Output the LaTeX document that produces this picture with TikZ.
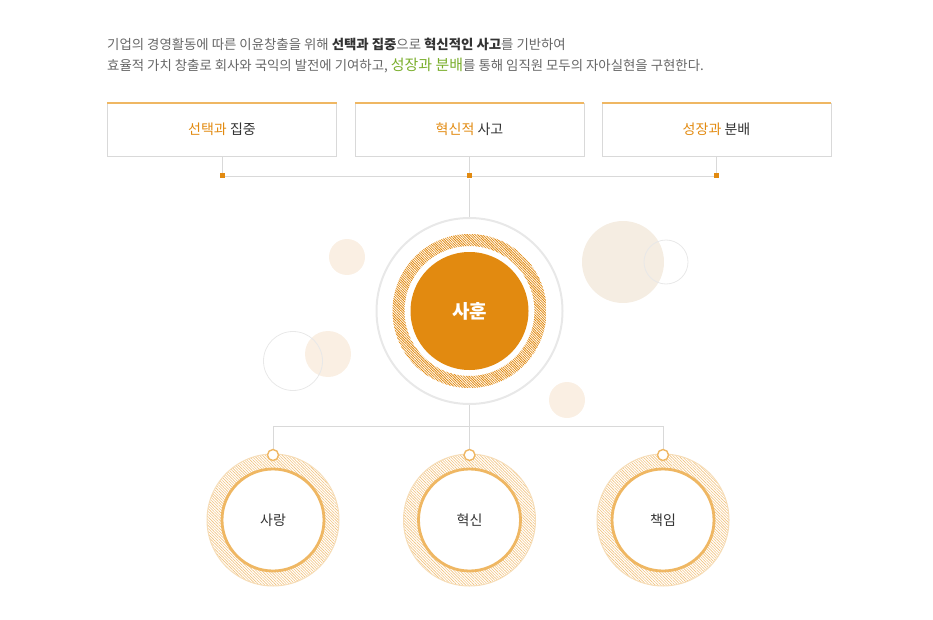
\documentclass[tikz,border=0pt]{standalone}
\usepackage{fontspec}
\setmainfont{Noto Sans CJK KR}
\usetikzlibrary{patterns.meta,backgrounds,positioning}
\definecolor{org}{HTML}{E28A10}
\definecolor{lorg}{HTML}{EFB763}
\definecolor{porg}{HTML}{F6DDB8}
\definecolor{horg}{HTML}{F1C27E}
\definecolor{lne}{HTML}{D9D9D9}
\definecolor{txt}{HTML}{666666}
\definecolor{dk}{HTML}{333333}
\definecolor{grn}{HTML}{7AAE2C}
\definecolor{bga}{HTML}{FAEFE3}
\definecolor{bgb}{HTML}{F5EDE2}
\definecolor{ol}{HTML}{E8E8E8}
\newcommand{\hl}[1]{\textcolor{org}{#1}}
\newcommand{\px}[1]{\fontsize{#1pt}{#1pt}\selectfont}
\tikzset{
  tbox/.style={draw=lne,minimum width=229pt,minimum height=53pt,inner sep=0pt,font=\px{14},text=dk},
  sq/.style={fill=org,minimum size=5pt,inner sep=0pt},
  ln/.style={draw=lne,line width=.8pt},
  val/.style={circle,draw=lorg,line width=2.8pt,minimum size=102pt,inner sep=0pt,fill=white,font=\px{14},text=dk},
  dot/.style={circle,draw=lorg,line width=1.4pt,fill=white,minimum size=11pt,inner sep=0pt},
  deco/.style={draw=ol,line width=.8pt},
}

\begin{document}
\begin{tikzpicture}[x=1pt,y=-1pt]
\useasboundingbox (0,0) rectangle (933,620);
\node[anchor=base west,inner sep=0pt,text=txt,font=\px{13.4}] (introa) at (107,50)
  {기업의 경영활동에 따른 이윤창출을 위해 \textcolor{dk}{\bfseries 선택과 집중}으로 \textcolor{dk}{\bfseries 혁신적인 사고}를 기반하여};
\node[anchor=base west,inner sep=0pt,text=txt,font=\px{13.4}] (introb) at (107,71)
  {효율적 가치 창출로 회사와 국익의 발전에 기여하고, \textcolor{grn}{\px{15}성장과 분배}를 통해 임직원 모두의 자아실현을 구현한다.};

\node[tbox] (b1) at (222,129.5) {\hl{선택과} 집중};
\node[tbox] (b2) at (469.5,129.5) {\hl{혁신적} 사고};
\node[tbox] (b3) at (716.5,129.5) {\hl{성장과} 분배};
\foreach \b in {b1,b2,b3}
  \draw[lorg,line width=2pt] (\b.north west) -- (\b.north east);
\node[sq] (s1) at (222,176) {};
\node[sq] (s2) at (469.5,176) {};
\node[sq] (s3) at (716.5,176) {};

\fill[bga] (347,257) circle (18pt);
\fill[bga] (328,354) circle (23pt);
\draw[deco] (293,361) circle (29.5pt);
\fill[bgb] (623,262) circle (41pt);
\draw[deco] (666,262) circle (22pt);
\fill[bga] (567,400) circle (18pt);

\node[circle,draw=ol,line width=2pt,minimum size=186pt,inner sep=0pt] (ring) at (469.5,311) {};
\fill[pattern={Lines[angle=-45,distance=1.8pt,line width=.8pt]},pattern color=org,even odd rule]
  (ring.center) circle (77pt) circle (65pt);
\node[circle,fill=org,minimum size=118pt,inner sep=0pt,text=white,font=\px{19}\bfseries] (main) at (ring.center) {사훈};

\foreach \n/\x/\t in {1/273/사랑,2/469.5/혁신,3/663/책임} {
  \fill[pattern={Lines[angle=-45,distance=2pt,line width=.6pt]},pattern color=horg,even odd rule]
    (\x,520) circle (66pt) circle (51pt);
  \draw[porg,line width=1pt] (\x,520) circle (66pt);
  \node[val] (v\n) at (\x,520) {\t};
  \node[dot] (d\n) at (\x,455) {};
}
\coordinate (j) at (469.5,426);

\begin{scope}[on background layer]
\draw[ln] (b1) -- (s1);
\draw[ln] (b2) -- (s2);
\draw[ln] (b3) -- (s3);
\draw[ln] (s1) -- (s3);
\draw[ln] (s2) -- (ring);
\draw[ln] (ring) -- (j);
\draw[ln] (j) -| (d1);
\draw[ln] (j) -| (d3);
\draw[ln] (j) -- (d2);
\end{scope}
\end{tikzpicture}
\end{document}
